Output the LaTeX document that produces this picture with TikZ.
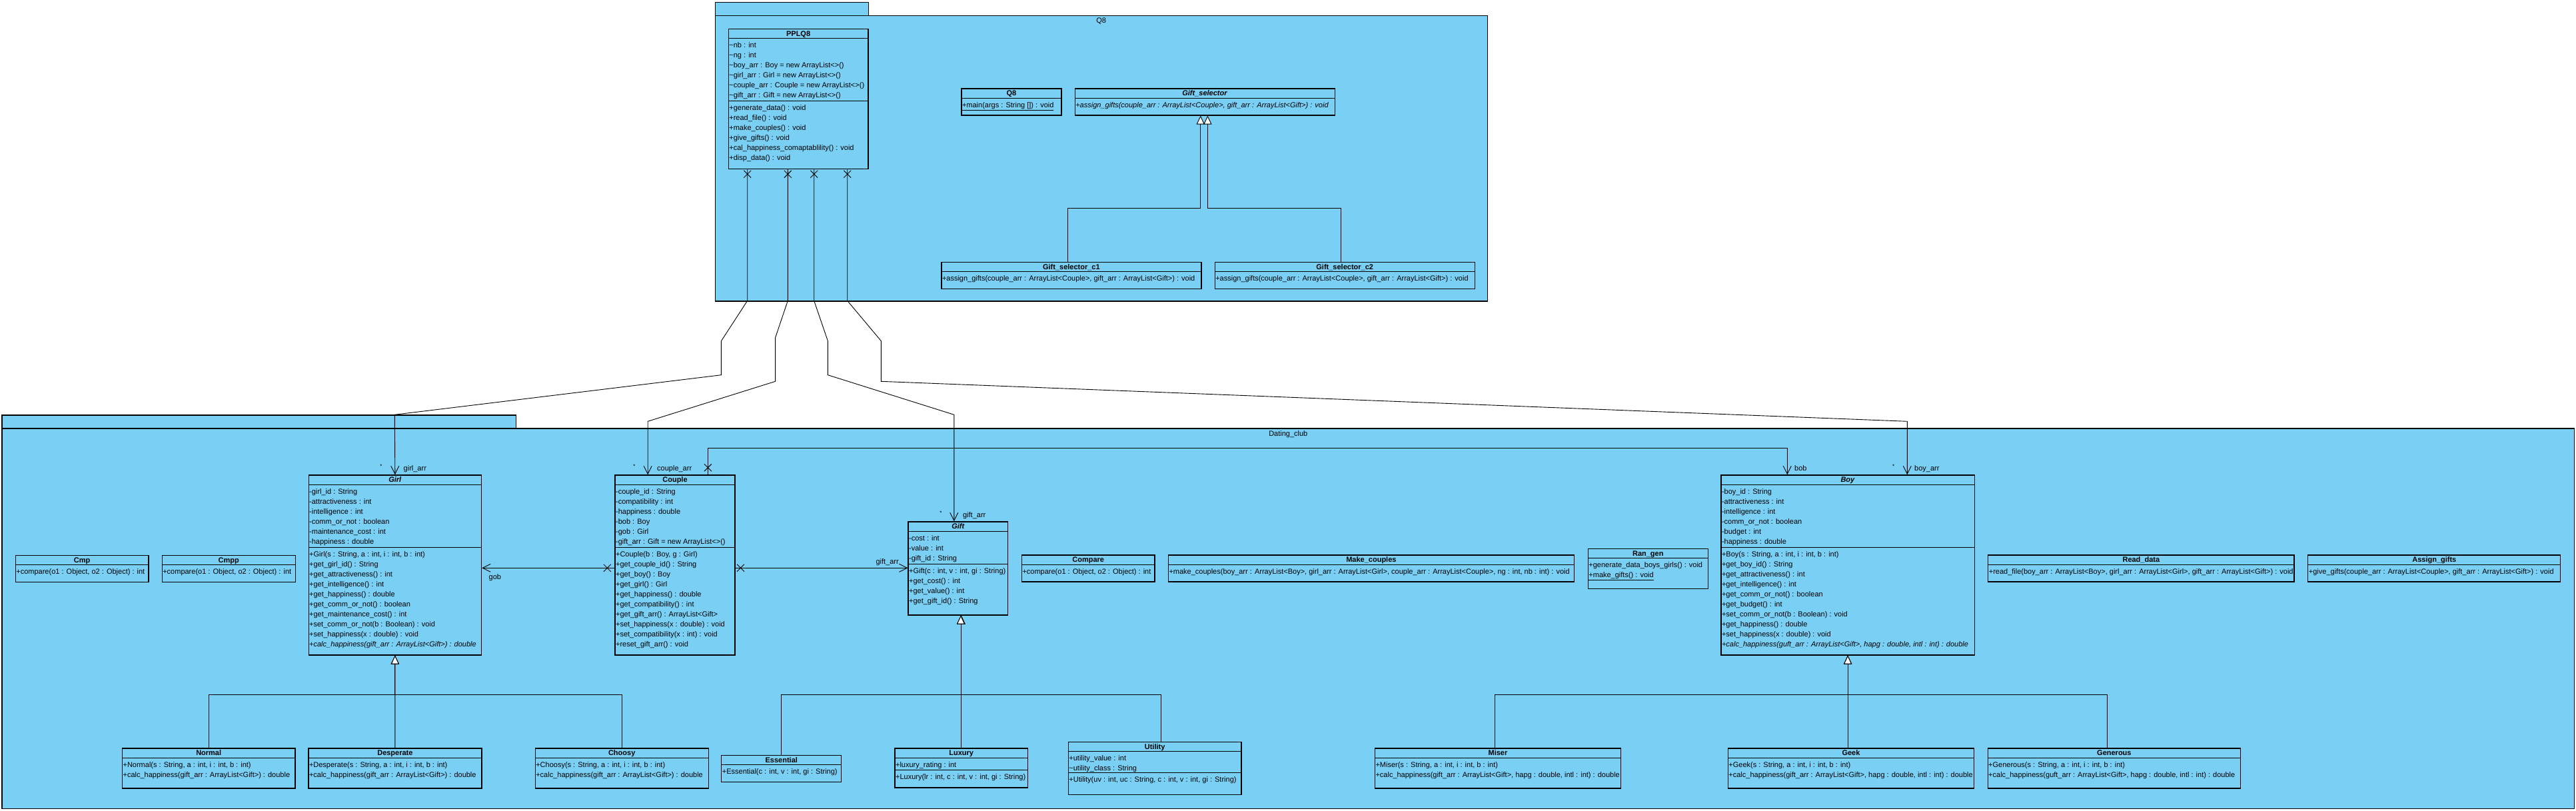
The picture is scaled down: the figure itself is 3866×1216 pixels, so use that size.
\documentclass[tikz,border=0pt]{standalone}
\usepackage{fontspec}
\setmainfont{Liberation Sans}
\usetikzlibrary{arrows.meta,calc,shapes.misc}
\definecolor{vpblue}{RGB}{122,207,245}
\tikzset{
  classbox/.style={draw, fill=vpblue, line width=1.2pt, inner sep=0pt, anchor=north west},
  members/.style={anchor=north west, align=left, inner sep=0pt, font=\fontsize{11}{15}\selectfont},
  classtitle/.style={anchor=base, inner sep=0pt, font=\fontsize{11}{15}\selectfont\bfseries},
  pkg/.style={draw, fill=vpblue, line width=1.2pt, inner sep=0pt, anchor=north west},
  assoc/.style={line width=0.9pt, -{Straight Barb[length=12pt,width=12pt]}},
  inherit/.style={line width=0.9pt, -{Triangle[open,fill=white,length=13pt,width=12pt]}},
  xmark/.style={cross out, draw, line width=0.9pt, minimum size=10pt, inner sep=0pt},
  lbl/.style={inner sep=0pt, anchor=base west, font=\fontsize{11}{13}\selectfont},
  mult/.style={inner sep=0pt, font=\fontsize{8}{9}\selectfont},
}
% #1 name, #2 x, #3 y, #4 width, #5 title, #6 attr height, #7 attrs, #8 method height, #9 methods
\newcommand{\umlclass}[9]{%
  \draw (#2,#3) node[classbox, minimum width=#4, minimum height=15+#6+#8](#1) {};
  \draw (#1.north) ++(0,11.5) node[classtitle](#1t) {#5};
  \draw[line width=1.2pt] ($(#1.north west)+(0,15)$) -- ($(#1.north east)+(0,15)$);
  \ifdim#6pt>0pt
    \draw[line width=1.2pt] ($(#1.north west)+(0,15+#6)$) -- ($(#1.north east)+(0,15+#6)$);
    \draw ($(#1.north west)+(1.5,18.5)$) node[members](#1a) {\strut#7};
  \fi
  \draw ($(#1.north west)+(1.5,18.5+#6)$) node[members](#1m) {\strut#9};
}
\begin{document}
\begin{tikzpicture}[x=1pt,y=-1pt]
\useasboundingbox (0,0) rectangle (3866,1216);

% packages
\draw (1072.7,3) node[pkg, minimum width=230.3, minimum height=19.7](q8tab) {};
\draw (1072.7,22.7) node[pkg, minimum width=1158.8, minimum height=428.6](q8pkg) {};
\draw (2.4,622.3) node[pkg, minimum width=771.6, minimum height=20](dctab) {};
\draw (2.4,642.3) node[pkg, minimum width=3860.6, minimum height=570.7](dcpkg) {};
\draw (q8pkg.north) ++(0,12) node[lbl, anchor=base](q8name) {Q8};
\draw (dcpkg.north) ++(0,12) node[lbl, anchor=base](dcname) {Dating\_club};

% Q8
\umlclass{pplq}{1092.7}{42.7}{209.6}{PPLQ8}{94}
  {\textasciitilde nb : int\\\textasciitilde ng : int\\\textasciitilde boy\_arr : Boy = new ArrayList<>()\\\textasciitilde girl\_arr : Girl = new ArrayList<>()\\\textasciitilde couple\_arr : Couple = new ArrayList<>()\\\textasciitilde gift\_arr : Gift = new ArrayList<>()}
  {101}
  {+generate\_data() : void\\+read\_file() : void\\+make\_couples() : void\\+give\_gifts() : void\\+cal\_happiness\_comaptablility() : void\\+disp\_data() : void}
\umlclass{qmain}{1442.3}{132.3}{150}{Q8}{0}{}{25}
  {\underline{+main(args : String []) : void}}
\umlclass{gsel}{1612.6}{132.3}{390}{\textit{Gift\_selector}}{0}{}{25}
  {\textit{+assign\_gifts(couple\_arr : ArrayList<Couple>, gift\_arr : ArrayList<Gift>) : void}}
\umlclass{gselone}{1412.3}{392.7}{390}{Gift\_selector\_c1}{0}{}{25}
  {+assign\_gifts(couple\_arr : ArrayList<Couple>, gift\_arr : ArrayList<Gift>) : void}
\umlclass{gseltwo}{1822.6}{392.7}{390}{Gift\_selector\_c2}{0}{}{25}
  {+assign\_gifts(couple\_arr : ArrayList<Couple>, gift\_arr : ArrayList<Gift>) : void}

% Dating_club
\umlclass{cmp}{22.7}{832.7}{199.6}{Cmp}{0}{}{25}
  {+compare(o1 : Object, o2 : Object) : int}
\umlclass{cmpp}{242.6}{832.7}{200}{Cmpp}{0}{}{25}
  {+compare(o1 : Object, o2 : Object) : int}
\umlclass{girl}{462.5}{712.3}{259.5}{\textit{Girl}}{94}
  {-girl\_id : String\\-attractiveness : int\\-intelligence : int\\-comm\_or\_not : boolean\\-maintenance\_cost : int\\-happiness : double}
  {161}
  {+Girl(s : String, a : int, i : int, b : int)\\+get\_girl\_id() : String\\+get\_attractiveness() : int\\+get\_intelligence() : int\\+get\_happiness() : double\\+get\_comm\_or\_not() : boolean\\+get\_maintenance\_cost() : int\\+set\_comm\_or\_not(b : Boolean) : void\\+set\_happiness(x : double) : void\\\textit{+calc\_happiness(gift\_arr : ArrayList<Gift>) : double}}
\umlclass{couple}{922.4}{712.3}{180}{Couple}{94}
  {-couple\_id : String\\-compatibility : int\\-happiness : double\\-bob : Boy\\-gob : Girl\\-gift\_arr : Gift = new ArrayList<>()}
  {161}
  {+Couple(b : Boy, g : Girl)\\+get\_couple\_id() : String\\+get\_boy() : Boy\\+get\_girl() : Girl\\+get\_happiness() : double\\+get\_compatibility() : int\\+get\_gift\_arr() : ArrayList<Gift>\\+set\_happiness(x : double) : void\\+set\_compatibility(x : int) : void\\+reset\_gift\_arr() : void}
\umlclass{gift}{1362.4}{782.3}{149.8}{\textit{Gift}}{49}
  {-cost : int\\-value : int\\-gift\_id : String}
  {76}
  {+Gift(c : int, v : int, gi : String)\\+get\_cost() : int\\+get\_value() : int\\+get\_gift\_id() : String}
\umlclass{compare}{1532.8}{832.3}{199.6}{Compare}{0}{}{25}
  {+compare(o1 : Object, o2 : Object) : int}
\umlclass{makecouples}{1752.8}{832.3}{609}{Make\_couples}{0}{}{25}
  {+make\_couples(boy\_arr : ArrayList<Boy>, girl\_arr : ArrayList<Girl>, couple\_arr : ArrayList<Couple>, ng : int, nb : int) : void}
\umlclass{rangen}{2382.7}{822.7}{180}{Ran\_gen}{0}{}{45}
  {+generate\_data\_boys\_girls() : void\\\underline{+make\_gifts() : void}}
\umlclass{boy}{2582.3}{712.3}{380.4}{\textit{Boy}}{94}
  {-boy\_id : String\\-attractiveness : int\\-intelligence : int\\-comm\_or\_not : boolean\\-budget : int\\-happiness : double}
  {161}
  {+Boy(s : String, a : int, i : int, b : int)\\+get\_boy\_id() : String\\+get\_attractiveness() : int\\+get\_intelligence() : int\\+get\_comm\_or\_not() : boolean\\+get\_budget() : int\\+set\_comm\_or\_not(b : Boolean) : void\\+get\_happiness() : double\\+set\_happiness(x : double) : void\\\textit{+calc\_happiness(guft\_arr : ArrayList<Gift>, hapg : double, intl : int) : double}}
\umlclass{readdata}{2983.1}{832.3}{459.3}{Read\_data}{0}{}{25}
  {+read\_file(boy\_arr : ArrayList<Boy>, girl\_arr : ArrayList<Girl>, gift\_arr : ArrayList<Gift>) : void}
\umlclass{assigngifts}{3463.2}{832.3}{379}{Assign\_gifts}{0}{}{25}
  {+give\_gifts(couple\_arr : ArrayList<Couple>, gift\_arr : ArrayList<Gift>) : void}
\umlclass{normal}{182.9}{1122.3}{259.4}{Normal}{0}{}{45}
  {+Normal(s : String, a : int, i : int, b : int)\\+calc\_happiness(gift\_arr : ArrayList<Gift>) : double}
\umlclass{desperate}{462.3}{1122.3}{260}{Desperate}{0}{}{45}
  {+Desperate(s : String, a : int, i : int, b : int)\\+calc\_happiness(gift\_arr : ArrayList<Gift>) : double}
\umlclass{choosy}{802.6}{1122.3}{260}{Choosy}{0}{}{45}
  {+Choosy(s : String, a : int, i : int, b : int)\\+calc\_happiness(gift\_arr : ArrayList<Gift>) : double}
\umlclass{essential}{1082.2}{1132.7}{180}{Essential}{0}{}{25}
  {+Essential(c : int, v : int, gi : String)}
\umlclass{luxury}{1342.4}{1122.3}{199.5}{Luxury}{18}
  {+luxury\_rating : int}
  {26}
  {+Luxury(lr : int, c : int, v : int, gi : String)}
\umlclass{utility}{1602.7}{1112.7}{259.6}{Utility}{32}
  {+utility\_value : int\\\textasciitilde utility\_class : String}
  {32}
  {+Utility(uv : int, uc : String, c : int, v : int, gi : String)}
\umlclass{miser}{2062.8}{1122.3}{369.2}{Miser}{0}{}{45}
  {+Miser(s : String, a : int, i : int, b : int)\\+calc\_happiness(gift\_arr : ArrayList<Gift>, hapg : double, intl : int) : double}
\umlclass{geek}{2592.7}{1122.3}{369.3}{Geek}{0}{}{45}
  {+Geek(s : String, a : int, i : int, b : int)\\+calc\_happiness(gift\_arr : ArrayList<Gift>, hapg : double, intl : int) : double}
\umlclass{generous}{2982.5}{1122.3}{379.5}{Generous}{0}{}{45}
  {+Generous(s : String, a : int, i : int, b : int)\\+calc\_happiness(guft\_arr : ArrayList<Gift>, hapg : double, intl : int) : double}

% generalizations
\draw[inherit] (gselone.north -| 1602.5,0) -- (1602.5,312.3) -- (1801.7,312.3) -- (gsel.south -| 1801.7,0);
\draw[inherit] (gseltwo.north -| 2012.2,0) -- (2012.2,312.3) -- (1812.4,312.3) -- (gsel.south -| 1812.4,0);
\draw[inherit] (normal.north) -- (normal.north |- 0,1042.3) -- (girl.south |- 0,1042.3) -- (girl.south);
\draw[inherit] (desperate.north) -- (girl.south);
\draw[inherit] (choosy.north) -- (choosy.north |- 0,1042.3) -- (girl.south |- 0,1042.3) -- (girl.south);
\draw[inherit] (essential.north) -- (essential.north |- 0,1042.3) -- (1442,1042.3) -- (gift.south -| 1442,0);
\draw[inherit] (luxury.north) -- (gift.south -| luxury.north);
\draw[inherit] (utility.north -| 1742,0) -- (1742,1042.3) -- (1442,1042.3) -- (gift.south -| 1442,0);
\draw[inherit] (miser.north -| 2243.2,0) -- (2243.2,1042.3) -- (boy.south |- 0,1042.3) -- (boy.south);
\draw[inherit] (geek.north -| boy.south) -- (boy.south);
\draw[inherit] (generous.north -| 3162,0) -- (3162,1042.3) -- (boy.south |- 0,1042.3) -- (boy.south);

% associations
\node[xmark] (xgirl) at (1121.7,261.3) {};
\node[xmark] (xcouple) at (1182.3,261.3) {};
\node[xmark] (xgift) at (1221.7,261.3) {};
\node[xmark] (xboy) at (1271.7,261.3) {};
\draw[assoc] (pplq.south -| xgirl) -- (1121.7,451.3) -- (1082.4,511.7) -- (1082.4,562.7) -- (592.3,622.3) -- (girl.north);
\draw[assoc] (pplq.south -| xcouple) -- (1182.3,451.3) -- (1163.6,506.7) -- (1163.6,572.3) -- (972.2,632.3) -- (couple.north -| 972.2,0);
\draw[assoc] (pplq.south -| xgift) -- (1221.7,451.3) -- (1242.4,511.7) -- (1242.4,562.7) -- (1431.8,622.3) -- (gift.north -| 1431.8,0);
\draw[assoc] (pplq.south -| xboy) -- (1271.7,451.3) -- (1322.4,511.7) -- (1322.4,572.3) -- (2862.3,632.3) -- (boy.north -| 2862.3,0);
\node[xmark] (xbob) at (1062.4,701.7) {};
\node[xmark] (xgob) at (911.4,852.3) {};
\node[xmark] (xgarr) at (1111.5,852.3) {};
\draw[assoc] (couple.north -| xbob) -- (1062.4,672.3) -- (2682.3,672.3) -- (boy.north -| 2682.3,0);
\draw[assoc] (couple.west |- xgob) -- (girl.east |- xgob);
\draw[assoc] (couple.east |- xgarr) -- (gift.west |- xgarr);

% role names
\node[lbl] (lgirl) at (605.5,706.3) {girl\_arr};
\node[mult] (mgirl) at (572,700) {*};
\node[lbl] (lcouple) at (986,706.3) {couple\_arr};
\node[mult] (mcouple) at (951.8,700) {*};
\node[lbl] (lgift) at (1444.9,776.3) {gift\_arr};
\node[mult] (mgift) at (1411.8,770) {*};
\node[lbl, anchor=base east] (lgarr) at (1349,846.3) {gift\_arr};
\node[lbl] (lgob) at (733.5,869.5) {gob};
\node[lbl] (lbob) at (2693,706.3) {bob};
\node[lbl] (lboy) at (2873,706.3) {boy\_arr};
\node[mult] (mboy) at (2841.7,700) {*};
\end{tikzpicture}
\end{document}
